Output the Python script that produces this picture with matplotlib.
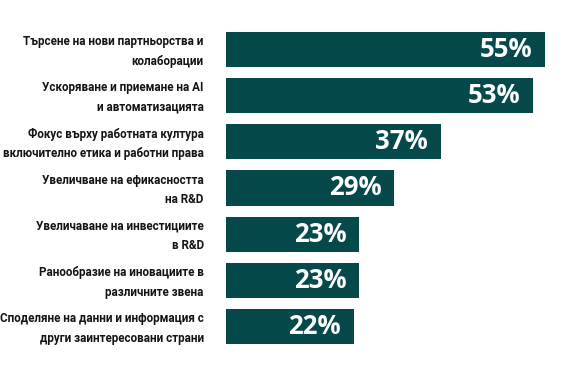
import matplotlib
matplotlib.use("Agg")
import matplotlib.pyplot as plt
from matplotlib.transforms import ScaledTranslation

# ======================================
# Data
# ======================================
labels = [
    "Търсене на нови партньорства и\nколаборации",
    "Ускоряване и приемане на AI\nи автоматизацията",
    "Фокус върху работната култура\nвключително етика и работни права",
    "Увеличване на ефикасността\nна R&D",
    "Увеличаване на инвестициите\nв R&D",
    "Ранообразие на иновациите в\nразличните звена",
    "Споделяне на данни и информация с\nдруги заинтересовани страни",
]
values = [55, 53, 37, 29, 23, 23, 22]

bar_color = "#05494B"
text_color = "#141414"

plt.rcParams["font.family"] = ["Roboto", "DejaVu Sans"]

# ======================================
# Plot
# ======================================
fig = plt.figure(figsize=(5.77, 3.78), dpi=100)
ax = fig.add_axes([226 / 577, 0.0754, 348 / 577, 0.8545])

y = list(range(len(values)))
ax.barh(y, values, height=0.76, color=bar_color, edgecolor="none")
ax.set_xlim(0, 60)
ax.set_ylim(len(values) - 0.5, -0.5)

for i, v in enumerate(values):
    ax.text(v - 2.2, i, f"{v}%", ha="right", va="center",
            color="white", fontsize=18.5, fontweight="bold",
            family=["Open Sans", "DejaVu Sans"])

ax.set_yticks(y)
ax.set_yticklabels(labels, fontsize=8.4, fontweight="bold", color=text_color,
                   ha="right", linespacing=1.65)
ax.tick_params(axis="y", length=0, pad=16)
# nudge labels up a touch
shift = ScaledTranslation(0, 2 / 72, fig.dpi_scale_trans)
for lab in ax.get_yticklabels():
    lab.set_transform(lab.get_transform() + shift)
ax.set_xticks([])
for s in ax.spines.values():
    s.set_visible(False)

fig.savefig("out.png", dpi=100, facecolor="white")
